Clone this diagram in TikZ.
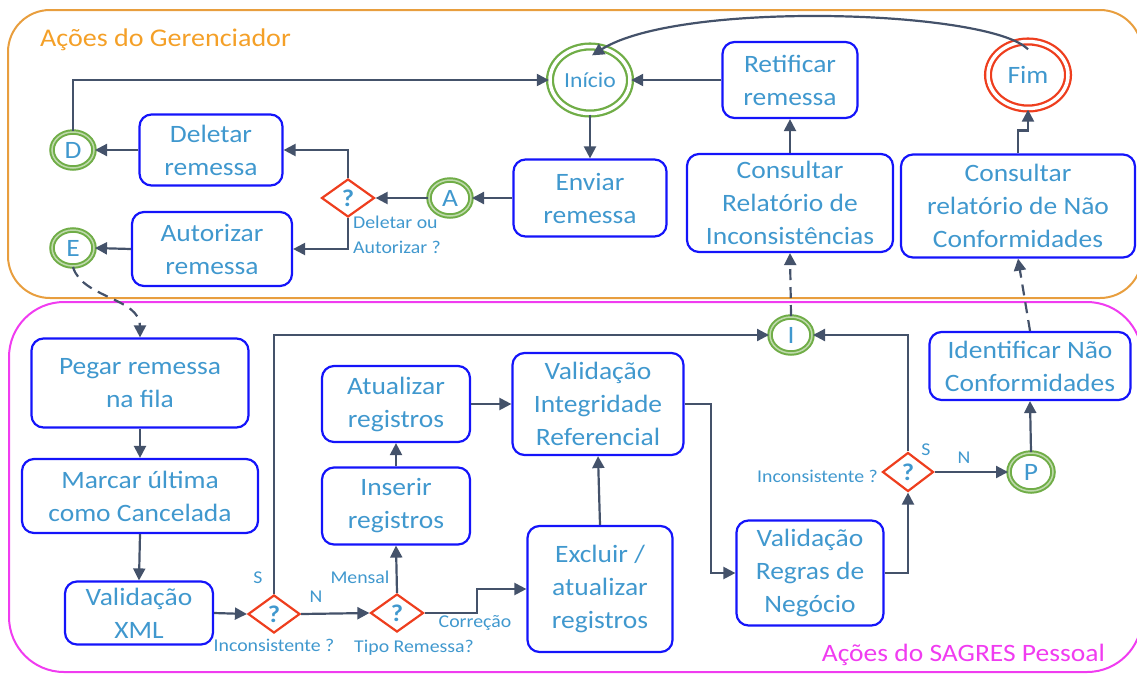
\documentclass[tikz,border=0pt]{standalone}
\usepackage{fontspec}
\setmainfont{Carlito}[FakeStretch=1.1]
\usetikzlibrary{shapes.geometric,arrows.meta}
\definecolor{txtblue}{RGB}{64,152,206}
\definecolor{boxblue}{RGB}{20,20,250}
\definecolor{arrcol}{RGB}{68,82,106}
\definecolor{grn}{RGB}{112,173,71}
\definecolor{redd}{RGB}{238,62,30}
\definecolor{orng}{RGB}{232,158,62}
\definecolor{orngtxt}{RGB}{244,160,40}
\definecolor{mag}{RGB}{240,60,240}
\newcommand\boxfont{\fontsize{25}{33}\selectfont}
\newcommand\lblfont{\fontsize{18}{25}\selectfont}
\tikzset{
  pbox/.style={draw=boxblue, line width=2.2pt, rounded corners=12pt, text=txtblue, align=center, font=\boxfont, inner sep=0pt},
  conn/.style={ellipse, draw=grn, line width=2pt, double=grn!45, double distance=1.5pt, text=txtblue, font=\boxfont, inner sep=0pt, minimum width=42pt, minimum height=36pt},
  term/.style={ellipse, line width=2.3pt, double=white, double distance=3.5pt, text=txtblue, inner sep=0pt, minimum width=80pt, minimum height=67pt},
  dec/.style={diamond, draw=redd, line width=2.2pt, text=txtblue, font=\fontsize{24}{24}\selectfont\bfseries, inner sep=0pt, minimum width=53pt, minimum height=38pt},
  arr/.style={draw=arrcol, line width=2.2pt, -{Triangle[length=12pt,width=12pt]}},
  darr/.style={arr, dash pattern=on 11pt off 7pt},
  lbl/.style={text=txtblue, font=\lblfont, inner sep=0pt}
}
\begin{document}
\begin{tikzpicture}[x=1pt,y=-1pt]
\useasboundingbox (0,0) rectangle (1137,673);
\begin{scope}
\clip (0,0) rectangle (1137,673);
\draw[orng, line width=2pt, rounded corners=42pt] (8,10) rectangle (1142,298);
\draw[mag, line width=2pt, rounded corners=55pt] (9,302) rectangle (1142,672);
\end{scope}
\node[text=orngtxt, font=\fontsize{25.5}{30}\selectfont, anchor=west, inner sep=0pt] (t1) at (40,40) {Ações do Gerenciador};
\node[text=mag, font=\fontsize{25}{30}\selectfont, anchor=east, inner sep=0pt] (t2) at (1105,655) {Ações do SAGRES Pessoal};

% top lane
\node[term, draw=grn, font=\fontsize{21.5}{24}\selectfont] (ini) at (590,80) {Início};
\node[term, draw=redd, font=\fontsize{25}{28}\selectfont] (fim) at (1028,75) {Fim};
\node[pbox, minimum width=135pt, minimum height=76pt] (ret) at (790,80) {Retificar\\remessa};
\node[pbox, minimum width=206pt, minimum height=98pt] (cinc) at (790,203) {Consultar\\Relatório de\\Inconsistências};
\node[pbox, minimum width=234pt, minimum height=103pt] (cnc) at (1018,206) {Consultar\\relatório de Não\\Conformidades};
\node[pbox, minimum width=153pt, minimum height=77pt] (env) at (590,198) {Enviar\\remessa};
\node[conn] (A) at (450,198) {A};
\node[dec] (q1) at (348,198) {?};
\node[pbox, minimum width=143pt, minimum height=71pt] (del) at (211,150) {Deletar\\remessa};
\node[pbox, minimum width=160pt, minimum height=74pt] (aut) at (212,249) {Autorizar\\remessa};
\node[conn] (D) at (73,150) {D};
\node[conn] (E) at (73,248) {E};
\node[lbl, anchor=north west, align=left] (lq1) at (353,216) {Deletar ou\\Autorizar ?};

% bottom lane
\node[pbox, minimum width=217pt, minimum height=89pt] (peg) at (140,383) {Pegar remessa\\na fila};
\node[pbox, minimum width=236pt, minimum height=74pt] (mar) at (140,496) {Marcar última\\como Cancelada};
\node[pbox, minimum width=148pt, minimum height=63pt] (vx) at (139,613) {Validação\\XML};
\node[dec, minimum width=52pt] (d1) at (274,614) {?};
\node[dec] (d2) at (397,613) {?};
\node[pbox, minimum width=148pt, minimum height=77pt] (ins) at (396,506) {Inserir\\registros};
\node[pbox, minimum width=148pt, minimum height=76pt] (atu) at (396,404) {Atualizar\\registros};
\node[pbox, minimum width=171pt, minimum height=102pt] (vin) at (598,404) {Validação\\Integridade\\Referencial};
\node[pbox, minimum width=145pt, minimum height=126pt] (exc) at (600,589) {Excluir /\\atualizar\\registros};
\node[pbox, minimum width=147pt, minimum height=105pt] (vrg) at (810,573) {Validação\\Regras de\\Negócio};
\node[dec, minimum width=51pt, minimum height=39pt] (d3) at (908,472) {?};
\node[conn] (I) at (791,335) {I};
\node[conn, minimum width=44pt, minimum height=38pt] (P) at (1031,472) {P};
\node[pbox, minimum width=201pt, minimum height=68pt] (idn) at (1030,366) {Identificar Não\\Conformidades};

\node[lbl] (s1) at (258,578) {S};
\node[lbl] (n1) at (316,597) {N};
\node[lbl] (l1) at (274,645) {Inconsistente ?};
\node[lbl] (men) at (360,577) {Mensal};
\node[lbl] (tip) at (414,648) {Tipo Remessa?};
\node[lbl] (cor) at (475,623) {Correção};
\node[lbl, anchor=east] (l3) at (878,476) {Inconsistente ?};
\node[lbl] (s3) at (926,450) {S};
\node[lbl] (n3) at (964,458) {N};

% connectors top
\draw[arr] (D.north) |- (ini.west);
\draw[arr] (del.west) -- (D.east);
\draw[arr] (aut.west) -- (E.east);
\draw[arr] (q1.north) |- (del.east);
\draw[arr] (q1.south) |- (aut.east);
\draw[arr] (A.west) -- (q1.east);
\draw[arr] (env.west) -- (A.east);
\draw[arr] (ini.south) -- (env.north);
\draw[arr] (ret.west) -- (ini.east);
\draw[arr] (cinc.north) -- (ret.south);
\draw[arr] (cnc.north) -- ++(0,-23) -| (fim.south);
\draw[arr] ([yshift=-9pt]fim.north) .. controls (990,10) and (680,0) .. ([xshift=2pt,yshift=-10pt]ini.north);
\draw[darr] (E.south) .. controls (82,298) and (140,298) .. (peg.north);

% connectors bottom
\draw[arr] (peg.south) -- (mar.north);
\draw[arr] (mar.south) -- (vx.north);
\draw[arr] (vx.east) -- (d1.west);
\draw[arr] (d1.north) |- (I.west);
\draw[arr] (d1.east) -- (d2.west);
\draw[arr] (d2.north) -- (ins.south);
\draw[arr] (ins.north) -- (atu.south);
\draw[arr] (atu.east) -- (vin.west);
\draw[arr] (d2.east) -- ++(52,0) |- (exc.west);
\draw[arr] (exc.north) -- (vin.south);
\draw[arr] (vin.east) -- ++(26,0) |- (vrg.west);
\draw[arr] (vrg.east) -| (d3.south);
\draw[arr] (d3.north) |- (I.east);
\draw[darr] (I.north) -- (cinc.south);
\draw[arr] (d3.east) -- (P.west);
\draw[arr] (P.north) -- (idn.south);
\draw[darr] (idn.north) -- (cnc.south);
\end{tikzpicture}
\end{document}
